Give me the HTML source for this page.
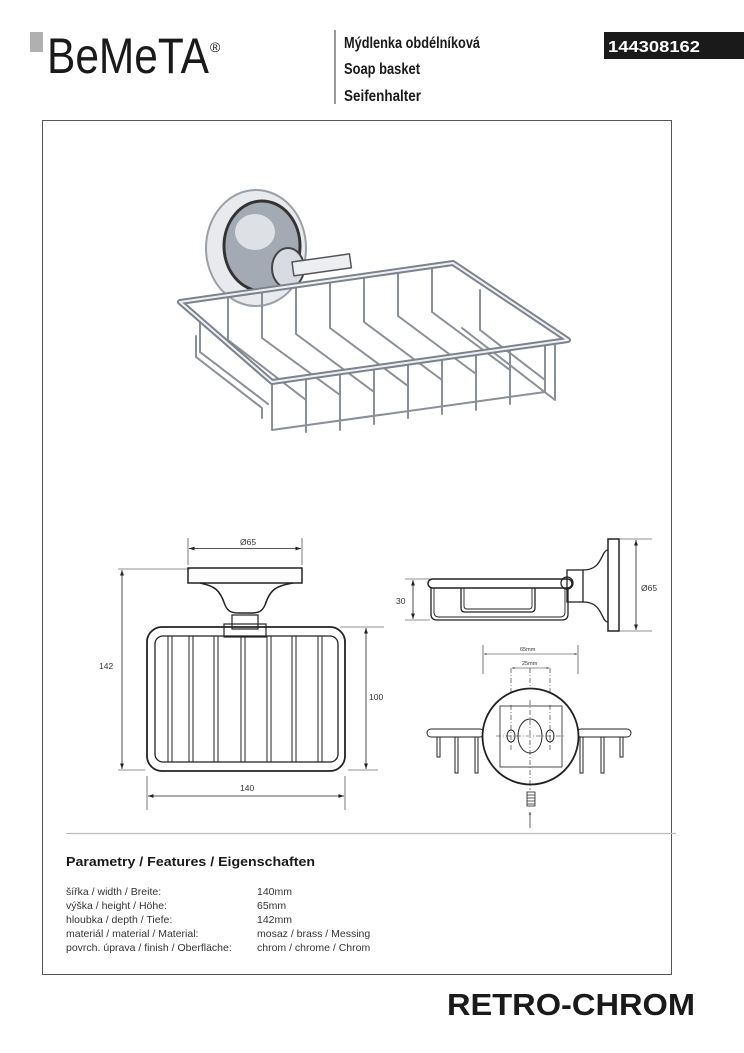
<!DOCTYPE html>
<html><head><meta charset="utf-8"><style>
html,body{margin:0;padding:0;background:#fff;}
svg{display:block;}
text{font-family:"Liberation Sans",sans-serif;}
</style></head><body>
<svg width="744" height="1053" viewBox="0 0 744 1053" xmlns="http://www.w3.org/2000/svg">
<defs>
<marker id="a" viewBox="0 0 10 10" refX="10" refY="5" markerWidth="7" markerHeight="7" orient="auto-start-reverse"><path d="M0,1.5 L10,5 L0,8.5 z" fill="#222"/></marker>
<marker id="s" viewBox="0 0 10 10" refX="10" refY="5" markerWidth="4" markerHeight="4" orient="auto-start-reverse"><path d="M0,1.5 L10,5 L0,8.5 z" fill="#333"/></marker>
</defs>
<!-- header -->
<rect x="30" y="32" width="13" height="20" fill="#b0b0b0"/>
<text x="47" y="73" font-size="50" fill="#1a1a1a" textLength="162" lengthAdjust="spacingAndGlyphs">BeMeTA</text>
<text x="210" y="52" font-size="14" fill="#1a1a1a">®</text>
<line x1="335" y1="30" x2="335" y2="104" stroke="#333" stroke-width="1"/>
<text x="344" y="48" font-size="16" font-weight="bold" fill="#1a1a1a" textLength="136" lengthAdjust="spacingAndGlyphs">Mýdlenka obdélníková</text>
<text x="344" y="74" font-size="16" font-weight="bold" fill="#1a1a1a" textLength="76" lengthAdjust="spacingAndGlyphs">Soap basket</text>
<text x="344" y="101" font-size="16" font-weight="bold" fill="#1a1a1a" textLength="77" lengthAdjust="spacingAndGlyphs">Seifenhalter</text>
<rect x="604" y="32" width="140" height="27" fill="#1a1a1a"/>
<text x="608" y="52" font-size="16" font-weight="bold" fill="#fff" textLength="92" lengthAdjust="spacingAndGlyphs">144308162</text>
<!-- frame -->
<rect x="42.5" y="120.5" width="629" height="854" fill="none" stroke="#555" stroke-width="1"/>

<!-- photo -->
<g fill="none" stroke-linecap="round" stroke-linejoin="round">
<ellipse cx="256" cy="248" rx="50" ry="58" fill="#e8eaee" stroke="#9aa0a8" stroke-width="2"/>
<ellipse cx="262" cy="246" rx="38" ry="45" fill="#a4aab3" stroke="#333" stroke-width="3"/>
<ellipse cx="255" cy="232" rx="20" ry="18" fill="#dde1e6"/>
<ellipse cx="288" cy="268" rx="16" ry="20" fill="#d8dce2" stroke="#444" stroke-width="2"/>
<rect x="292" y="262" width="58" height="14" transform="rotate(-8 292 262)" fill="#eceef1" stroke="#555" stroke-width="1.5"/>
<g stroke="#8a9098" stroke-width="2">
<path d="M196,336 L196,357 L262,408 L262,418"/>
<path d="M200,318 L200,352 L268,404"/>
<path d="M272,382 L272,430 L545,392 L545,345"/>
<path d="M555,345 L555,400 L462,328"/>
<path d="M306,378 L306,432 M340,373 L340,430 M374,368 L374,424 M408,363 L408,418 M442,358 L442,414 M476,353 L476,410 M510,348 L510,404"/>
<path d="M228,295 L228,340 L306,400 M262,291 L262,338 L340,395 M296,287 L296,334 L374,392 M330,282 L330,328 L408,386 M364,277 L364,322 L442,380 M398,272 L398,316 L476,374 M432,267 L432,312 L510,370 M480,290 L480,330 L545,380"/>
</g>
<path d="M180,302 L453,263 L568,340 L272,382 Z" stroke="#7d838c" stroke-width="6"/>
<path d="M180,302 L453,263 L568,340 L272,382 Z" stroke="#eef0f3" stroke-width="2"/>
</g>

<!-- front view -->
<g fill="none" stroke="#222" stroke-width="1.2">
<line x1="188" y1="538" x2="188" y2="565" stroke-width="0.6"/>
<line x1="302" y1="538" x2="302" y2="565" stroke-width="0.6"/>
<line x1="189" y1="548.5" x2="301" y2="548.5" marker-start="url(#a)" marker-end="url(#a)" stroke-width="0.8"/>
<rect x="188" y="568" width="114" height="15" stroke-width="1.5"/>
<path d="M200,583 C215,586 220,590 225,605 C228,612 232,613 240,613 L250,613 C258,613 262,612 265,605 C270,590 275,586 293,583" stroke-width="1.5"/>
<rect x="232" y="615" width="26" height="14"/>
<rect x="224" y="624" width="42" height="13"/>
<rect x="147" y="627" width="198" height="144" rx="15" stroke-width="1.8"/>
<rect x="155" y="636" width="183" height="126" rx="8" stroke-width="1.3"/>
<g stroke-width="1">
<path d="M168,636 V762 M172,636 V762 M189,636 V762 M193,636 V762 M214,636 V762 M218,636 V762 M241,636 V762 M245,636 V762 M267,636 V762 M271,636 V762 M292,636 V762 M296,636 V762 M318,636 V762 M322,636 V762"/>
</g>
<g stroke-width="0.6">
<line x1="118" y1="569" x2="190" y2="569"/>
<line x1="118" y1="770" x2="145" y2="770"/>
<line x1="340" y1="627" x2="384" y2="627"/>
<line x1="348" y1="770" x2="378" y2="770"/>
<line x1="147" y1="776" x2="147" y2="810"/>
<line x1="345" y1="776" x2="345" y2="810"/>
</g>
<line x1="122" y1="570" x2="122" y2="769" marker-start="url(#a)" marker-end="url(#a)" stroke-width="0.8"/>
<line x1="366" y1="628" x2="366" y2="769" marker-start="url(#a)" marker-end="url(#a)" stroke-width="0.8"/>
<line x1="148" y1="796" x2="344" y2="796" marker-start="url(#a)" marker-end="url(#a)" stroke-width="0.8"/>
</g>
<g font-size="8.5" fill="#333">
<text x="240" y="545">Ø65</text>
<text x="99" y="669">142</text>
<text x="369" y="700">100</text>
<text x="240" y="791">140</text>
</g>

<!-- side view -->
<g fill="none" stroke="#222" stroke-width="1.3">
<rect x="428" y="579" width="144" height="9" rx="4.5" stroke-width="1.5"/>
<path d="M431,588 V614 Q431,620 437,620 H562 Q568,620 568,614 V588"/>
<path d="M434,588 V612 Q434,617 439,617 H560 Q565,617 565,612 V588" stroke-width="0.9"/>
<path d="M461,588 V608 Q461,612 465,612 H531 Q535,612 535,608 V588"/>
<path d="M464,588 V606 Q464,609 467,609 H529 Q532,609 532,606 V588" stroke-width="0.9"/>
<circle cx="567" cy="583" r="6"/>
<rect x="567" y="570" width="16" height="32"/>
<path d="M583,570 C598,570 600,560 604,553 C606,550 607,550 608,550"/>
<path d="M583,602 C598,602 600,612 604,619 C606,622 607,622 608,622"/>
<rect x="608" y="539" width="11" height="92" stroke-width="1.5"/>
<g stroke-width="0.6">
<line x1="405" y1="579" x2="430" y2="579"/>
<line x1="405" y1="620" x2="430" y2="620"/>
<line x1="620" y1="539" x2="652" y2="539"/>
<line x1="620" y1="631" x2="652" y2="631"/>
</g>
<line x1="413" y1="580" x2="413" y2="619" marker-start="url(#a)" marker-end="url(#a)" stroke-width="0.8"/>
<line x1="636" y1="540" x2="636" y2="630" marker-start="url(#a)" marker-end="url(#a)" stroke-width="0.8"/>
</g>
<g font-size="8.5" fill="#333">
<text x="396" y="604">30</text>
<text x="641" y="591">Ø65</text>
</g>

<!-- bottom view -->
<g fill="none" stroke="#222" stroke-width="1">
<g stroke-width="0.6">
<line x1="483" y1="645" x2="483" y2="674"/>
<line x1="578" y1="645" x2="578" y2="674"/>
</g>
<line x1="484" y1="654" x2="577" y2="654" marker-start="url(#s)" marker-end="url(#s)" stroke-width="0.6"/>
<line x1="512" y1="668" x2="549" y2="668" marker-start="url(#s)" marker-end="url(#s)" stroke-width="0.6"/>
<g stroke-dasharray="5,2,1,2" stroke-width="0.6">
<line x1="511" y1="668" x2="511" y2="750"/>
<line x1="550" y1="668" x2="550" y2="750"/>
<line x1="530" y1="668" x2="530" y2="790"/>
</g>
<rect x="427" y="729" width="57" height="8" rx="4"/>
<rect x="577" y="729" width="54" height="8" rx="4"/>
<path d="M437,737 V757 H440 V737 M455,737 V773 H458 V737 M475,737 V773 H478 V737 M580,737 V773 H583 V737 M601,737 V773 H604 V737 M620,737 V757 H623 V737"/>
<circle cx="530.5" cy="736.5" r="48" stroke-width="1.8" fill="#fff"/>
<rect x="500" y="706" width="62" height="61" stroke-width="0.8"/>
<ellipse cx="530" cy="736" rx="12" ry="17"/>
<ellipse cx="511" cy="736" rx="4" ry="6"/>
<ellipse cx="550" cy="736" rx="4" ry="6"/>
<g stroke-dasharray="5,2,1,2" stroke-width="0.6">
<line x1="530" y1="700" x2="530" y2="785"/>
<line x1="511" y1="705" x2="511" y2="750"/>
<line x1="550" y1="705" x2="550" y2="750"/>
<line x1="496" y1="736" x2="566" y2="736"/>
</g>
<rect x="527" y="792" width="8" height="14" stroke-width="0.8"/>
<path d="M527,795 H535 M527,798 H535 M527,801 H535 M527,804 H535" stroke-width="0.8"/>
<line x1="530" y1="828" x2="530" y2="812" marker-end="url(#s)" stroke-width="0.7"/>
</g>
<g font-size="5.5" fill="#333">
<text x="520" y="651">65mm</text>
<text x="522" y="665">25mm</text>
</g>

<line x1="66" y1="833.5" x2="676" y2="833.5" stroke="#bbb" stroke-width="1.2"/>

<text x="66" y="866" font-size="13" font-weight="bold" fill="#1a1a1a" textLength="249" lengthAdjust="spacingAndGlyphs">Parametry / Features / Eigenschaften</text>
<g font-size="10.5" fill="#333">
<text x="66" y="895">šířka / width / Breite:</text>
<text x="66" y="909">výška / height / Höhe:</text>
<text x="66" y="923">hloubka / depth / Tiefe:</text>
<text x="66" y="937">materiál / material / Material:</text>
<text x="66" y="951">povrch. úprava / finish / Oberfläche:</text>
<text x="257" y="895">140mm</text>
<text x="257" y="909">65mm</text>
<text x="257" y="923">142mm</text>
<text x="257" y="937">mosaz / brass / Messing</text>
<text x="257" y="951">chrom / chrome / Chrom</text>
</g>

<text x="447" y="1015" font-size="31" font-weight="bold" fill="#1a1a1a" textLength="248" lengthAdjust="spacingAndGlyphs">RETRO-CHROM</text>
</svg>
</body></html>
